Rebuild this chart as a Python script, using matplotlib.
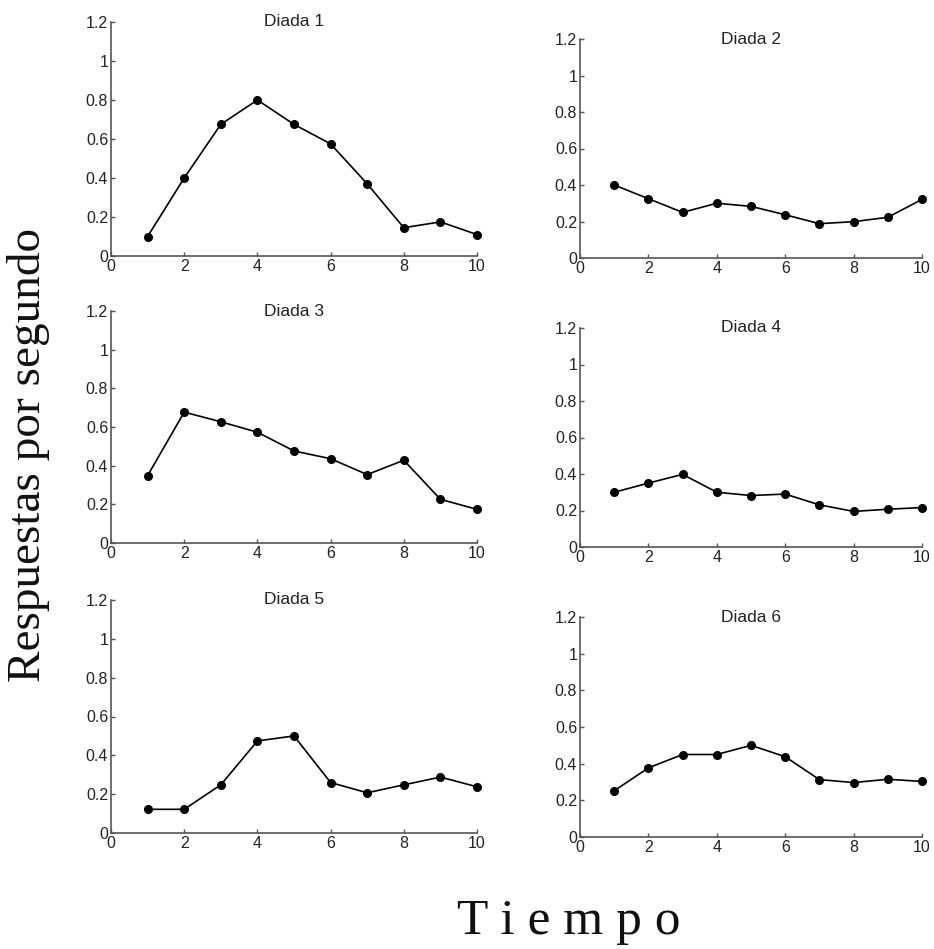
import matplotlib
matplotlib.use("Agg")
import matplotlib.pyplot as plt

tiempo = [1, 2, 3, 4, 5, 6, 7, 8, 9, 10]
diada1 = [0.10, 0.40, 0.675, 0.80, 0.675, 0.575, 0.37, 0.145, 0.175, 0.11]
diada2 = [0.40, 0.325, 0.25, 0.30, 0.283, 0.237, 0.188, 0.199, 0.223, 0.321]
diada3 = [0.348, 0.677, 0.627, 0.573, 0.476, 0.436, 0.354, 0.428, 0.226, 0.174]
diada4 = [0.30, 0.35, 0.398, 0.30, 0.282, 0.29, 0.231, 0.195, 0.207, 0.216]
diada5 = [0.122, 0.122, 0.248, 0.474, 0.50, 0.26, 0.207, 0.248, 0.288, 0.238]
diada6 = [0.252, 0.377, 0.45, 0.45, 0.50, 0.438, 0.313, 0.297, 0.315, 0.303]
titles = ["Diada 1", "Diada 2", "Diada 3", "Diada 4", "Diada 5", "Diada 6"]
series = [diada1, diada2, diada3, diada4, diada5, diada6]
yticks = [0, 0.2, 0.4, 0.6, 0.8, 1, 1.2]
yticklabels = ["0", "0.2", "0.4", "0.6", "0.8", "1", "1.2"]
xticks = [0, 2, 4, 6, 8, 10]

W, H = 934, 949
fig = plt.figure(figsize=(W / 100, H / 100), dpi=100)

# axes rectangles in pixels: (left, top, right, bottom)
rects = [
    (111, 22, 477, 256),
    (580, 39, 922, 258),
    (111, 311, 477, 543),
    (580, 328, 922, 547),
    (111, 600, 477, 833),
    (580, 617, 922, 837),
]

spine_col = "#555555"
for rect, vals, title in zip(rects, series, titles):
    l, t, r, b = rect
    ax = fig.add_axes([l / W, 1 - b / H, (r - l) / W, (b - t) / H])
    ax.plot(tiempo, vals, color="black", lw=1.2, marker="o", ms=5.5,
            markerfacecolor="black", markeredgecolor="black", clip_on=False)
    ax.set_xlim(0, 10)
    ax.set_ylim(0, 1.2)
    ax.set_xticks(xticks)
    ax.set_yticks(yticks)
    ax.set_yticklabels(yticklabels)
    for s in ["top", "right"]:
        ax.spines[s].set_visible(False)
    for s in ["left", "bottom"]:
        ax.spines[s].set_color(spine_col)
        ax.spines[s].set_linewidth(1.2)
    ax.tick_params(direction="in", length=3, width=1, color=spine_col,
                   labelsize=11.5, labelcolor="#222222", pad=2)
    for lab in ax.get_xticklabels() + ax.get_yticklabels():
        lab.set_fontfamily("Liberation Sans")
    ax.text(0.5, 1.0, title, transform=ax.transAxes, ha="center", va="center",
            fontsize=12.5, family="Liberation Sans", color="#222222")

fig.text(29 / W, 1 - 455 / H, "Respuestas por segundo", rotation=90,
         ha="center", va="center", fontsize=34, family="Liberation Serif",
         color="#111111")
fig.text(569 / W, 1 - 922 / H, "T i e m p o", ha="center", va="center",
         fontsize=37, family="Liberation Serif", color="#111111")

fig.savefig("out.png", dpi=100, facecolor="white")
